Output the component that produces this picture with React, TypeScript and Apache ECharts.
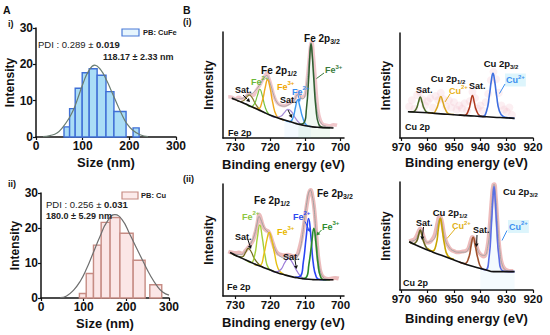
import React, { useEffect, useRef } from "react";
import * as echarts from "echarts";

const FONT = "'Liberation Sans', Arial, Helvetica, sans-serif";

// ---------- Panel A : DLS size distributions ----------
const sizeTicks = [0, 100, 200, 300];
const intensityTicks = [0, 10, 20, 30];

// [bin start (nm), bin end (nm), intensity]
const cuFeBins = [
  [60, 72, 2.8], [72, 84, 7.8], [84, 99, 13.4], [99, 114, 17.7], [114, 131, 18.8],
  [131, 150, 17], [150, 167, 12.5], [167, 193, 7], [208, 221, 2.5],
];
const cuFeFit = [
  [15, 0.1], [30, 0.4], [45, 1.1], [58, 2.8], [70, 5], [80, 7.4], [90, 10.8], [101, 14.8],
  [113, 18.2], [126, 19.8], [138, 18.6], [151, 15.7], [162, 12.5], [173, 9.3], [184, 6.2],
  [194, 3.8], [208, 1.8], [223, 0.6], [240, 0.1],
];
const cuBins = [
  [90, 106, 1.3], [106, 123, 7], [123, 141, 15.1], [141, 162, 21.6], [162, 185, 23],
  [185, 216, 18.5], [216, 244, 10.8], [255, 283, 3.8],
];
const cuFit = [
  [45, 0.1], [60, 0.6], [76, 2.2], [92, 4.8], [107, 8.4], [122, 12.8], [138, 17.5],
  [155, 21.8], [173, 23.8], [190, 22.4], [209, 18], [225, 14], [240, 10.3], [256, 6.5],
  [271, 3.6], [285, 1.7], [300, 0.8],
];

// ---------- Panel B : XPS spectra ----------
const feTicks = [700, 710, 720, 730];
const cuTicks = [920, 930, 940, 950, 960, 970];

// Fe 2p (i)
const feBg1 = [[731, 37.5], [730, 36.2], [728, 33.5], [726, 30.5], [724, 27.5], [722, 24.5], [720, 21.5], [718, 19], [716, 17], [714, 15], [712, 13], [710, 11.5], [708, 10.5], [706, 10], [704, 9.7], [702, 9.5]];
const feSatA1 = [[730, 36.4], [728.5, 34.3], [727.5, 35.5], [726.8, 38.5], [726, 40.5], [725.2, 38], [724.3, 32.5], [723.2, 27.5], [722, 24.6]];
const feFe2A1 = [[727, 32], [725.5, 29.5], [724.5, 32.5], [723.7, 40], [723, 46], [722.3, 40], [721.5, 29.5], [720.5, 22.8], [719, 20.2]];
const feFe3A1 = [[725, 29], [723.5, 27.5], [722.3, 35], [721.5, 47], [720.8, 55], [720.1, 47.5], [719.3, 33], [718.3, 21.5], [717, 18], [716, 17]];
const feSatB1 = [[720, 21.5], [718.5, 19.5], [717, 20.5], [716, 24], [715, 27], [714, 25], [713, 19.5], [711.5, 13.5], [710, 11.6]];
const feFe2B1 = [[716, 17], [714.5, 15.3], [713.5, 19.5], [712.8, 29.5], [712.2, 36], [711.6, 30], [710.8, 19.5], [709.8, 12.5], [708.5, 10.8]];
const feFe3B1 = [[712, 13], [710.5, 14], [709.7, 28], [709.1, 55], [708.7, 80], [708.4, 89], [708.1, 80], [707.6, 55], [707, 28], [706.2, 13], [705, 10], [703, 9.6]];
const feRaw1 = [[732, 39], [731, 38.5], [730, 37], [729, 38.5], [728, 37], [727, 39], [726, 42], [725, 40], [724, 45], [723, 50], [722, 56], [721.5, 59], [721, 61], [720.5, 57], [720, 52], [719.5, 46], [719, 40], [718, 33], [717, 31], [716, 30.5], [715, 32], [714, 34], [713, 37], [712.5, 41], [712, 44], [711.5, 41], [711, 38], [710.5, 39], [710, 42], [709.5, 55], [709, 72], [708.5, 88], [708.2, 90], [707.8, 80], [707.3, 60], [706.8, 38], [706.2, 22], [705.5, 15], [705, 13], [704, 12], [703, 11.5], [702, 12.5], [701, 12]];
const feEnv1 = [[731, 38], [729, 37], [727.5, 38], [726.5, 41], [725.5, 41.5], [724.5, 44], [723.5, 48], [722.5, 53], [721.5, 58], [721, 59], [720.5, 56], [719.8, 49], [719, 40], [718, 33], [717, 30.5], [716, 30], [715, 31], [714, 33], [713, 36.5], [712.3, 41], [711.8, 41], [711, 37], [710.3, 38], [709.7, 50], [709.1, 68], [708.7, 84], [708.4, 90], [708.1, 84], [707.6, 62], [707, 36], [706.3, 20], [705.5, 14], [704.5, 11.5], [703, 10.5], [702, 10]];

// Fe 2p (ii)
const feBg2 = [[731.5, 41], [730, 38.5], [728, 35.5], [726, 32.5], [724, 29.5], [722, 27], [720, 24.5], [718, 22], [716, 20], [714, 18.3], [712, 17], [710, 16], [708, 15.5], [705, 15.3], [702, 15.3]];
const feSatA2 = [[731, 40], [729.5, 37.5], [728, 37], [727, 41.5], [726.3, 45], [725.5, 42], [724.5, 35], [723.3, 30], [722, 27]];
const feFe2A2 = [[727, 34], [725.5, 31.5], [724.5, 38], [723.7, 55], [723, 67], [722.3, 55], [721.5, 38], [720.5, 26], [719, 23.3]];
const feFe3A2 = [[724.5, 29.4], [723, 29], [721.8, 40], [721, 53], [720.3, 60], [719.6, 53], [718.8, 40], [717.8, 26], [716.5, 21], [715, 19.2]];
const feSatB2 = [[720, 24.5], [718.5, 22.5], [717, 25], [715.8, 32], [714.8, 35.5], [713.8, 32], [712.5, 24], [711, 17.5], [709.5, 15.8]];
const feFe2B2 = [[713, 17.6], [711.5, 18.5], [710.6, 32], [709.8, 55], [709.1, 73], [708.4, 55], [707.8, 32], [706.9, 18], [705.8, 15.5], [704, 15.3]];
const feFe3B2 = [[711, 16.5], [709.8, 17.5], [709, 30], [708.2, 50], [707.6, 64], [707, 50], [706.4, 30], [705.6, 17.5], [704.5, 15.3], [703, 15.3]];
const feRaw2 = [[732, 42], [731, 41], [730, 40.5], [729, 41], [728, 40], [727, 43], [726, 47], [725, 52], [724.5, 57], [724, 63], [723.5, 72], [723.2, 77], [722.8, 74], [722.3, 68], [721.8, 64], [721.2, 62], [720.6, 61], [720, 57], [719.3, 50], [718.5, 43], [717.8, 40], [717, 39], [716, 38.5], [715, 39], [714, 38], [713, 37.5], [712.3, 39], [711.8, 44], [711.2, 52], [710.6, 63], [710, 77], [709.4, 90], [708.9, 98], [708.5, 100], [708.1, 96], [707.6, 86], [707.1, 68], [706.6, 45], [706, 28], [705.4, 20], [704.6, 17], [703.5, 16], [702.5, 16.5], [701.5, 17], [700.5, 16.5]];
const feEnv2 = [[731.5, 41], [730, 39.5], [728.5, 39], [727.5, 41], [726.5, 45], [725.5, 50], [724.5, 58], [723.8, 68], [723.2, 75], [722.7, 72], [722, 66], [721.2, 62], [720.5, 60], [719.8, 55], [719, 47], [718, 40], [717, 37], [716, 36], [715, 37], [714, 36.5], [713, 35], [712.2, 38], [711.5, 44], [710.8, 58], [710.2, 74], [709.6, 88], [709.1, 97], [708.6, 100], [708.1, 95], [707.6, 85], [707.1, 65], [706.5, 40], [705.8, 24], [705, 18], [704, 16], [702.5, 15.5]];

// Cu 2p (i)
const cuBg1 = [[967.5, 25], [960, 24], [955, 23], [950, 22.2], [945, 21.3], [940, 20.6], [935, 19.8], [930, 19.2], [927, 18.7]];
const cuSatA1 = [[967, 25], [965.5, 24.9], [964.3, 28], [963.5, 34], [962.8, 39], [962.1, 34], [961.3, 28], [960, 24.4], [958, 24]];
const cuCuA1 = [[960, 24], [958, 23.6], [956.6, 28], [955.8, 34], [955, 39.5], [954.2, 34], [953.4, 28], [952, 23], [950, 22.3]];
const cuSatB1 = [[948, 21.8], [946, 21.5], [944.4, 27], [943.7, 34], [943, 40.5], [942.3, 34], [941.6, 27], [940, 21], [938, 20.5]];
const cuCuB1 = [[941, 20.7], [939, 20.5], [937.6, 26], [936.6, 40], [935.8, 55], [935.2, 61.6], [934.6, 55], [933.8, 40], [932.8, 26], [931.3, 20.5], [929, 19.2], [927, 18.7]];
const cuRaw1 = [[967, 30], [966, 36], [965, 28], [964, 41], [963, 44], [962, 37], [961, 31], [960, 35], [959, 38], [958, 29], [957, 40], [956, 36], [955, 43], [954, 37], [953, 30], [952, 36], [951, 29], [950, 34], [949, 27], [948, 31], [947, 28], [946, 33], [945, 26], [944, 35], [943, 44], [942, 38], [941, 28], [940, 31], [939, 26], [938, 34], [937, 42], [936, 55], [935, 63], [934, 56], [933, 43], [932, 31], [931, 27], [930, 25], [929, 29], [928, 22]];

// Cu 2p (ii)
const cuBg2 = [[967, 44.7], [963, 40], [958, 35], [953, 30.5], [948, 26], [943, 22], [938, 18.8], [935, 17], [930, 17], [927, 17]];
const cuSatA2 = [[967, 44.7], [965.5, 42.8], [964.2, 45], [963.4, 51], [962.8, 55.6], [962.2, 51], [961.4, 44], [960.2, 38.5], [958.5, 36]];
const cuCuA2 = [[960, 38.3], [958.2, 36], [956.8, 42], [955.9, 57], [955.2, 66.4], [954.5, 57], [953.6, 42], [952.3, 31.5], [950, 28.5]];
const cuSatB2 = [[948, 26], [946, 24.4], [944.4, 30], [943.5, 41], [942.7, 48.8], [941.9, 41], [941, 30], [939.6, 20.5], [937.5, 18.5]];
const cuCuB2 = [[940, 20], [938, 18.8], [936.7, 30], [935.8, 60], [935.2, 85], [934.8, 95.7], [934.4, 85], [933.8, 60], [932.9, 30], [931.6, 18], [929, 17], [927, 17]];
const cuRaw2 = [[967, 45], [966, 46], [965, 47], [964.2, 50], [963.5, 54], [962.8, 57], [962, 53], [961.2, 47], [960.5, 44], [959.5, 44], [958.5, 46], [957.5, 50], [956.8, 56], [956.2, 63], [955.5, 68], [955, 67], [954.4, 61], [953.8, 52], [953, 45], [952, 40], [951, 37], [950, 36], [949, 35], [948, 35], [947, 35.5], [946, 36], [945, 37], [944.3, 40], [943.6, 46], [943, 49], [942.3, 47], [941.6, 42], [941, 37], [940.3, 34], [939.5, 32], [938.7, 31], [938, 33], [937.3, 40], [936.7, 52], [936.1, 70], [935.6, 86], [935.1, 97], [934.7, 98], [934.2, 88], [933.7, 70], [933.1, 48], [932.4, 32], [931.6, 23], [930.5, 19], [929.5, 18], [928.5, 17.5], [927.5, 17.5]];
const cuEnv2 = [[967, 45], [965, 46], [963.5, 52], [962.8, 56], [962, 52], [961, 46], [960, 44], [959, 45], [958, 46], [957, 50], [956, 62], [955.2, 67], [954.4, 60], [953.5, 48], [952, 40], [950, 36], [948, 35], [946, 35], [944.5, 38], [943.5, 45], [942.7, 49], [941.8, 44], [941, 37], [940, 33], [938.5, 32], [937.2, 40], [936.2, 62], [935.5, 85], [934.8, 98], [934.1, 85], [933.4, 60], [932.5, 35], [931.5, 22], [930, 18], [928, 17]];

// ---------- helpers ----------
const richStyles = (color: string, size: number, weight: string) => {
  const small = Math.round(size * 0.65);
  return {
    n: { fill: color, fontSize: size, fontWeight: weight, fontFamily: FONT, lineHeight: size + 4 },
    b: { fill: color, fontSize: size, fontWeight: "bold", fontFamily: FONT, lineHeight: size + 4 },
    p: { fill: color, fontSize: small, fontWeight: "bold", fontFamily: FONT, verticalAlign: "top", lineHeight: small + 1 },
    s: { fill: color, fontSize: small, fontWeight: "bold", fontFamily: FONT, verticalAlign: "bottom", lineHeight: small + 1 },
  };
};
const txt = (x: number, y: number, text: string, color = "#111", size = 9, align = "left", weight = "bold", extra: any = {}) => ({
  type: "text",
  x,
  y,
  z: 100,
  style: {
    text,
    rich: richStyles(color, size, weight),
    fill: color,
    fontSize: size,
    fontWeight: weight,
    fontFamily: FONT,
    textAlign: align,
    verticalAlign: "middle",
    ...extra,
  },
});
const arrow = (x1: number, y1: number, x2: number, y2: number, color = "#111", w = 1) => {
  const a = Math.atan2(y2 - y1, x2 - x1);
  const L = 3.5, W = 2;
  const bx = x2 - L * Math.cos(a), by = y2 - L * Math.sin(a);
  return [
    { type: "line", z: 100, shape: { x1, y1, x2: bx, y2: by }, style: { stroke: color, lineWidth: w } },
    { type: "polygon", z: 100, shape: { points: [[x2, y2], [bx + W * Math.sin(a), by - W * Math.cos(a)], [bx - W * Math.sin(a), by + W * Math.cos(a)]] }, style: { fill: color } },
  ];
};
const seg = (x1: number, y1: number, x2: number, y2: number, color: string, w = 1) => ({
  type: "line", z: 100, shape: { x1, y1, x2, y2 }, style: { stroke: color, lineWidth: w },
});

const line = (g: number, data: number[][], color: string, width = 1.2, extra: any = {}) => ({
  type: "line",
  xAxisIndex: g,
  yAxisIndex: g,
  data,
  smooth: true,
  symbol: "none",
  showSymbol: false,
  lineStyle: { color, width },
  itemStyle: { color },
  z: 3,
  ...extra,
});
const hist = (g: number, data: number[][], fill: string, stroke: string) => ({
  type: "custom",
  xAxisIndex: g,
  yAxisIndex: g,
  data,
  encode: { x: [0, 1], y: 2 },
  z: 2,
  renderItem: (_p: any, api: any) => {
    const a = api.coord([api.value(0), api.value(2)]);
    const b = api.coord([api.value(1), 0]);
    return {
      type: "rect",
      shape: { x: a[0], y: a[1], width: b[0] - a[0], height: b[1] - a[1] },
      style: { fill, stroke, lineWidth: 1.4 },
    };
  },
});

const axisLine = { show: true, lineStyle: { color: "#111", width: 1.5 } };
const tickLabel = (size: number) => ({ color: "#111", fontSize: size, fontWeight: "bold", fontFamily: FONT, margin: 3 });
const nameStyle = (size: number) => ({ color: "#111", fontSize: size, fontWeight: "bold", fontFamily: FONT });

const histX = (g: number) => ({
  type: "value", gridIndex: g, min: 0, max: 300, interval: 100,
  axisLine, splitLine: { show: false },
  axisTick: { show: true, length: 3, lineStyle: { color: "#111", width: 1.2 }, customValues: sizeTicks },
  axisLabel: { ...tickLabel(12), customValues: sizeTicks },
  name: "Size (nm)", nameLocation: "middle", nameGap: 19, nameTextStyle: nameStyle(13),
});
const histY = (g: number) => ({
  type: "value", gridIndex: g, min: 0, max: 30, interval: 10,
  axisLine, splitLine: { show: false },
  axisTick: { show: true, length: 3, lineStyle: { color: "#111", width: 1.2 }, customValues: intensityTicks },
  axisLabel: { ...tickLabel(12), customValues: intensityTicks },
  name: "Intensity", nameLocation: "middle", nameRotate: 90, nameGap: 17, nameTextStyle: nameStyle(12),
});
const xpsX = (g: number, min: number, max: number, ticks: number[], gap: number) => ({
  type: "value", gridIndex: g, min, max, inverse: true,
  axisLine, splitLine: { show: false },
  axisTick: { show: true, length: 3, lineStyle: { color: "#111", width: 1.2 }, customValues: ticks },
  axisLabel: { ...tickLabel(11.5), customValues: ticks },
  name: "Binding energy (eV)", nameLocation: "middle", nameGap: gap, nameTextStyle: nameStyle(13),
});
const xpsY = (g: number, max: number) => ({
  type: "value", gridIndex: g, min: 0, max,
  axisLine, splitLine: { show: false }, axisTick: { show: false }, axisLabel: { show: false },
  name: "Intensity", nameLocation: "middle", nameRotate: 90, nameGap: 8, nameTextStyle: nameStyle(12),
});

const option: any = {
  animation: false,
  backgroundColor: "#ffffff",
  grid: [
    { left: 36, top: 28, width: 140, height: 109 },
    { left: 41, top: 193, width: 128, height: 105 },
    { left: 223, top: 32, width: 121, height: 106 },
    { left: 223, top: 184, width: 121, height: 112 },
    { left: 400, top: 33, width: 133, height: 105 },
    { left: 400, top: 182, width: 133, height: 108 },
  ],
  xAxis: [
    histX(0),
    histX(1),
    xpsX(2, 699, 733.5, feTicks, 20),
    xpsX(3, 699, 733.5, feTicks, 20),
    xpsX(4, 920, 970.5, cuTicks, 18),
    xpsX(5, 920, 970.5, cuTicks, 22),
  ],
  yAxis: [histY(0), histY(1), xpsY(2, 100), xpsY(3, 105.7), xpsY(4, 100), xpsY(5, 100)],
  series: [
    // A (i)
    hist(0, cuFeBins, "#AADDF6", "#3F6FD6"),
    line(0, cuFeFit, "#6A7D72", 1.2, { z: 4 }),
    // A (ii)
    hist(1, cuBins, "#FBE6E6", "#C68C84"),
    line(1, cuFit, "#6E6E6E", 1.2, { z: 4 }),

    // Fe (i)
    line(2, feRaw1, "rgba(236,180,186,0.75)", 3.5, { z: 1 }),
    line(2, feEnv1, "#A6A6A6", 1, { z: 2 }),
    line(2, feSatA1, "#8A7B2E", 1.2),
    line(2, feFe2A1, "#78C23F", 1.2),
    line(2, feFe3A1, "#F0A81C", 1.4),
    line(2, feSatB1, "#A58BD6", 1.2),
    line(2, feFe2B1, "#3D9AF0", 1.4, { areaStyle: { color: "rgba(120,190,250,0.12)" } }),
    line(2, feFe3B1, "#2F5F2F", 1.5, { areaStyle: { color: "rgba(120,200,130,0.15)" } }),
    line(2, feBg1, "#111111", 1.6, { z: 5 }),

    // Fe (ii)
    line(3, feRaw2, "rgba(230,170,170,0.8)", 4, { z: 1 }),
    line(3, feEnv2, "#A0A0A0", 1, { z: 2 }),
    line(3, feSatA2, "#6E6B1E", 1.2),
    line(3, feFe2A2, "#A3CF3A", 1.4),
    line(3, feFe3A2, "#E6C012", 1.4),
    line(3, feSatB2, "#9B7BD8", 1.2),
    line(3, feFe2B2, "#2B45F5", 1.6),
    line(3, feFe3B2, "#2A8A2A", 1.6),
    line(3, feBg2, "#111111", 1.6, { z: 5 }),

    // Cu (i)
    {
      type: "scatter", xAxisIndex: 4, yAxisIndex: 4, data: cuRaw1, symbolSize: 8, z: 1,
      itemStyle: { color: "rgba(242,185,195,0.28)" },
    },
    line(4, cuSatA1, "#4F6B2A", 1.5),
    line(4, cuCuA1, "#D9A520", 1.5),
    line(4, cuSatB1, "#B03A1E", 1.5),
    line(4, cuCuB1, "#3F6FE0", 1.6),
    line(4, cuBg1, "#111111", 1.6, { z: 5 }),

    // Cu (ii)
    line(5, cuRaw2, "rgba(232,170,170,0.8)", 4, { z: 1 }),
    line(5, cuEnv2, "#A6A6A6", 1, { z: 2 }),
    line(5, cuSatA2, "#6B6620", 1.6),
    line(5, cuCuA2, "#C9A500", 1.6),
    line(5, cuSatB2, "#A0522D", 1.6),
    line(5, cuCuB2, "#5A6FE6", 1.6, { areaStyle: { color: "rgba(150,215,245,0.15)" } }),
    line(5, cuBg2, "#111111", 1.6, { z: 5 }),
  ],
  graphic: {
    elements: [
      // panel letters
      txt(3, 10, "A", "#111", 10.5),
      txt(8, 23.5, "i)", "#111", 9),
      txt(8, 183.5, "ii)", "#111", 9),
      txt(183, 10, "B", "#111", 10.5),
      txt(183, 21.5, "(i)", "#111", 9),
      txt(183, 178.5, "(ii)", "#111", 9),

      // A (i) legend and annotations
      { type: "rect", z: 100, shape: { x: 122, y: 29, width: 17, height: 7 }, style: { fill: "#E6F5FD", stroke: "#4A7BD8", lineWidth: 1.2 } },
      txt(143, 32.5, "PB: CuFe", "#222", 7.5),
      txt(38, 44.5, "{n|PDI : 0.289 ± }{b|0.019}", "#222", 9.5, "left", "normal"),
      txt(103, 57, "118.17 ± 2.33 nm", "#222", 9),

      // A (ii) legend and annotations
      { type: "rect", z: 100, shape: { x: 122, y: 192, width: 16, height: 7 }, style: { fill: "#FCEBEB", stroke: "#C68C84", lineWidth: 1.2 } },
      txt(141, 195.5, "PB: Cu", "#222", 7.5),
      txt(46, 204.5, "{n|PDI : 0.256 ± }{b|0.031}", "#222", 9.5, "left", "normal"),
      txt(46, 216, "180.0 ± 5.29 nm", "#222", 9),

      // Fe (i)
      txt(322, 38, "{n|Fe 2p}{s|3/2}", "#111", 10, "center"),
      txt(279, 70, "{n|Fe 2p}{s|1/2}", "#111", 10, "center"),
      txt(325, 70, "{n|Fe}{p|3+}", "#3C7A3C", 9),
      txt(251, 81.5, "{n|Fe}{p|2+}", "#6CB83A", 9),
      txt(277, 86.5, "{n|Fe}{p|3+}", "#F0A500", 9),
      txt(292, 91.5, "{n|Fe}{p|2+}", "#3A8EF0", 9),
      txt(235, 90, "Sat.", "#111", 9),
      txt(280, 100, "Sat.", "#111", 9),
      txt(228, 133, "Fe 2p", "#111", 9),
      ...arrow(243, 95, 250, 102),
      ...arrow(288, 110, 292, 118),
      seg(324, 73, 316.5, 78.5, "#3C7A3C"),
      ...arrow(298, 95, 300, 102, "#3A8EF0"),

      // Fe (ii)
      txt(272, 200, "{n|Fe 2p}{s|1/2}", "#111", 10, "center"),
      txt(317, 193, "{n|Fe 2p}{s|3/2}", "#111", 10),
      txt(242, 216.5, "{n|Fe}{p|2+}", "#8CC63F", 9),
      txt(277, 231.5, "{n|Fe}{p|3+}", "#E8B800", 9),
      txt(293, 216.5, "{n|Fe}{p|2+}", "#2E4CF0", 9),
      txt(322, 226.5, "{n|Fe}{p|3+}", "#2E8B2E", 9),
      txt(235, 236.5, "Sat.", "#111", 9),
      txt(283, 256.5, "Sat.", "#111", 9),
      txt(227, 286.5, "Fe 2p", "#111", 9),
      ...arrow(248, 240, 251, 249),
      ...arrow(295, 260, 296.5, 269),
      ...arrow(305, 221.5, 310, 232, "#2E4CF0"),
      ...arrow(321.5, 230, 316.5, 235.5, "#2E8B2E"),

      // Cu (i)
      txt(501, 63, "{n|Cu 2p}{s|3/2}", "#111", 9.5, "center"),
      txt(505, 80, "{n|Cu}{p|2+}", "#3C8FF0", 9, "left", "bold", { backgroundColor: "#DDF5FC", padding: [0, 1] }),
      txt(448, 78, "{n|Cu 2p}{s|1/2}", "#111", 9.5, "center"),
      txt(449, 90.5, "{n|Cu}{p|2+}", "#E8B020", 9),
      txt(416, 89.5, "Sat.", "#111", 9),
      txt(469, 86, "Sat.", "#111", 9),
      txt(405, 127, "Cu 2p", "#111", 9),
      seg(505, 84, 499.5, 93.5, "#3C8FF0"),
      seg(450, 94, 445, 102, "#E8B020"),

      // Cu (ii)
      txt(503, 191.5, "{n|Cu 2p}{s|3/2}", "#111", 9.5),
      txt(508, 226.5, "{n|Cu}{p|2+}", "#3C8FF0", 9, "left", "bold", { backgroundColor: "#DDF5FC", padding: [0, 1] }),
      txt(450, 212.5, "{n|Cu 2p}{s|1/2}", "#111", 9.5, "center"),
      txt(452, 226, "{n|Cu}{p|2+}", "#E0B020", 9),
      txt(416, 222.5, "Sat.", "#111", 9),
      txt(473, 229.5, "Sat.", "#111", 9),
      txt(403, 283, "Cu 2p", "#111", 9),
      ...arrow(423.5, 227, 422, 240),
      ...arrow(477, 235, 476.5, 247),
      seg(455, 229, 447, 238.5, "#E0B020"),
      seg(507, 230.5, 502, 240.5, "#3C8FF0"),
    ],
  },
};

export default function App() {
  const ref = useRef<HTMLDivElement>(null);
  useEffect(() => {
    if (!ref.current) return;
    const chart = echarts.init(ref.current, null, { renderer: "svg" });
    chart.setOption(option);
    return () => chart.dispose();
  }, []);
  return <div ref={ref} style={{ position: "fixed", left: 0, top: 0, width: 550, height: 335, background: "#fff" }} />;
}
